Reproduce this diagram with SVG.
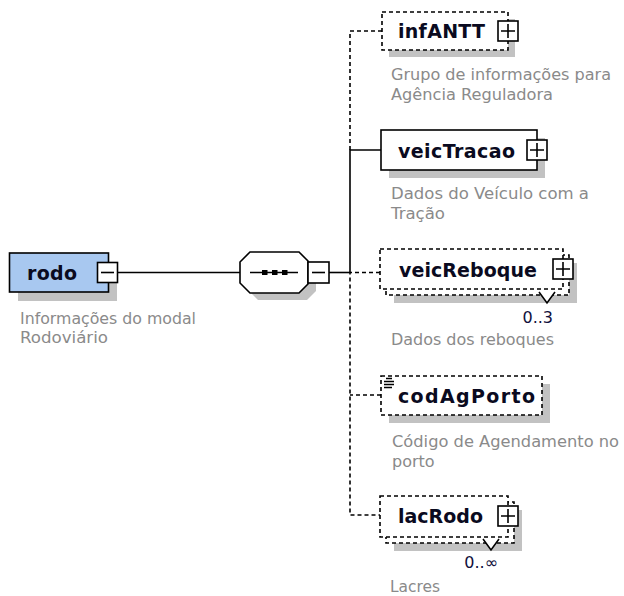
<svg xmlns="http://www.w3.org/2000/svg" width="624" height="596" viewBox="0 0 624 596">
<style>
.bx{fill:#fff;stroke:#000;stroke-width:1.6}
.d{stroke-dasharray:4 3}
.sh{fill:#c2c2c2;stroke:none}
.ln{fill:none;stroke:#000;stroke-width:1.6}
.lbl{font-family:"DejaVu Sans",Verdana,sans-serif;font-weight:bold;font-size:19px;fill:#0a0a20}
.desc{font-family:"DejaVu Sans",Verdana,sans-serif;font-size:16px;fill:#8a8a8a}
.occ{font-family:"DejaVu Sans",Verdana,sans-serif;font-size:16px;fill:#10103c}
</style>
<rect width="624" height="596" fill="#fff"/>
<g id="connectors">
<line class="ln" x1="118" y1="272.5" x2="240" y2="272.5"/>
<line class="ln" x1="329" y1="272.5" x2="350" y2="272.5"/>
<path class="ln d" d="M382 31 H350 V150"/>
<path class="ln d" d="M380 272.5 H350 V515 H380"/>
<path class="ln d" d="M381 395 H350"/>
<path class="ln" d="M381 150 H350 V272.5"/>
</g>
<g id="rodo">
<rect class="sh" x="18" y="262" width="99" height="39"/>
<rect x="9.5" y="253" width="99" height="39" fill="#a8c8f0" stroke="#000" stroke-width="1.6"/>
<text class="lbl" x="27" y="279.5" textLength="50">rodo</text>
<rect class="bx" x="97.5" y="262.5" width="20" height="20"/>
<line class="ln" x1="101" y1="272.5" x2="114" y2="272.5"/>
<text class="desc" x="20" y="324" textLength="176" lengthAdjust="spacingAndGlyphs">Informações do modal</text>
<text class="desc" x="20" y="343" textLength="88" lengthAdjust="spacingAndGlyphs">Rodoviário</text>
</g>
<g id="sequence">
<polygon class="sh" points="258,259 307,259 316,268 316,291 307,300 258,300 248,290 248,269"/>
<polygon class="bx" points="250,252 299,252 308,261 308,284 299,293 250,293 240,283 240,262"/>
<line class="ln" x1="250" y1="272.5" x2="298" y2="272.5"/>
<rect x="262" y="270" width="5.5" height="5" fill="#000"/>
<rect x="272" y="270" width="5.5" height="5" fill="#000"/>
<rect x="282" y="270" width="5.5" height="5" fill="#000"/>
<rect class="bx" x="308" y="262" width="21" height="21"/>
<line class="ln" x1="312" y1="272.5" x2="325" y2="272.5"/>
</g>
<g id="infANTT">
<rect class="sh" x="389" y="19" width="126" height="38"/>
<rect class="bx d" x="382" y="12" width="126" height="38"/>
<text class="lbl" x="398" y="37.5" textLength="87">infANTT</text>
<rect class="bx" x="498" y="21" width="20" height="20"/>
<path class="ln" d="M501 31 H515 M508 24 V38"/>
<text class="desc" x="391" y="80" textLength="220" lengthAdjust="spacingAndGlyphs">Grupo de informações para</text>
<text class="desc" x="391" y="100" textLength="162" lengthAdjust="spacingAndGlyphs">Agência Reguladora</text>
</g>
<g id="veicTracao">
<rect class="sh" x="389" y="138" width="156" height="40"/>
<rect class="bx" x="381" y="130" width="156" height="40"/>
<text class="lbl" x="398" y="157.5" textLength="117">veicTracao</text>
<rect class="bx" x="527" y="140" width="20" height="20"/>
<path class="ln" d="M530 150 H544 M537 143 V157"/>
<text class="desc" x="391" y="198.5" textLength="198" lengthAdjust="spacingAndGlyphs">Dados do Veículo com a</text>
<text class="desc" x="391" y="219" textLength="54" lengthAdjust="spacingAndGlyphs">Tração</text>
</g>
<g id="veicReboque">
<rect class="sh" x="394" y="263" width="183" height="40"/>
<rect class="bx d" x="386" y="255" width="183" height="40"/>
<rect class="bx d" x="380" y="249" width="183" height="40"/>
<text class="lbl" x="399" y="276.5" textLength="138">veicReboque</text>
<rect class="bx" x="553" y="259" width="20" height="20"/>
<path class="ln" d="M556 269 H570 M563 262 V276"/>
<polygon points="539,292 547,303 555,292" fill="#fff"/>
<polyline class="ln" points="539,292 547,303 555,292"/>
<text class="occ" x="553" y="323" text-anchor="end">0..3</text>
<text class="desc" x="391" y="345" textLength="163" lengthAdjust="spacingAndGlyphs">Dados dos reboques</text>
</g>
<g id="codAgPorto">
<rect class="sh" x="389" y="384" width="161" height="39"/>
<rect class="bx d" x="381" y="376" width="161" height="39"/>
<path class="ln" stroke-width="1.2" d="M386 378.5 H392 M384 381.5 H394 M384 384.5 H394 M384 387.5 H392"/>
<text class="lbl" x="398" y="402.5" textLength="137">codAgPorto</text>
<text class="desc" x="392" y="447" textLength="227" lengthAdjust="spacingAndGlyphs">Código de Agendamento no</text>
<text class="desc" x="392" y="467">porto</text>
</g>
<g id="lacRodo">
<rect class="sh" x="394" y="510" width="128" height="41"/>
<rect class="bx d" x="386" y="502" width="128" height="41"/>
<rect class="bx d" x="380" y="496" width="128" height="41"/>
<text class="lbl" x="398" y="523" textLength="85">lacRodo</text>
<rect class="bx" x="498" y="506" width="20" height="20"/>
<path class="ln" d="M501 516 H515 M508 509 V523"/>
<polygon points="483,539 491,550 499,539" fill="#fff"/>
<polyline class="ln" points="483,539 491,550 499,539"/>
<text class="occ" x="498" y="568" text-anchor="end">0..∞</text>
<text class="desc" x="390" y="592" textLength="50" lengthAdjust="spacingAndGlyphs">Lacres</text>
</g>
</svg>
